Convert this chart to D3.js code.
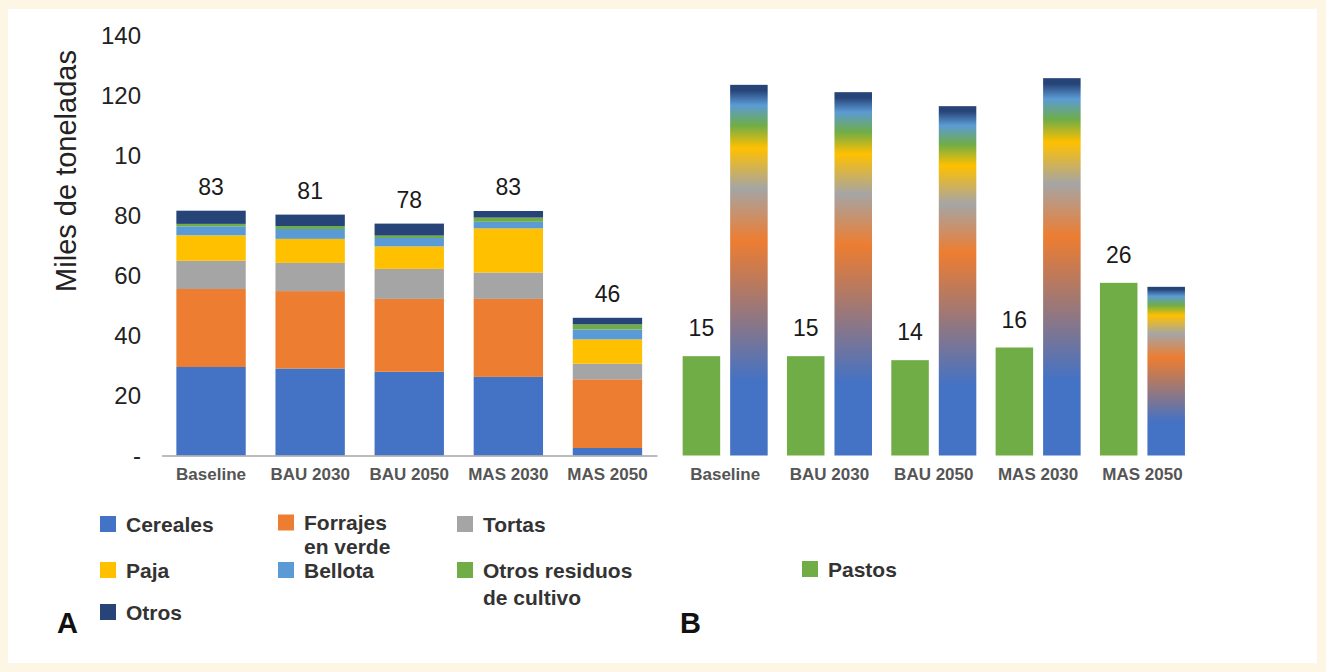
<!DOCTYPE html>
<html>
<head>
<meta charset="utf-8">
<script src="https://cdn.jsdelivr.net/npm/d3@7"></script>
<style>
html,body{margin:0;padding:0;background:#fdf6e5;}
svg{display:block;}
</style>
</head>
<body>
<svg id="c" width="1326" height="672"></svg>
<script>
// ---------- DATA ----------
const scenarios = ["Baseline", "BAU 2030", "BAU 2050", "MAS 2030", "MAS 2050"];

// Chart A: stacked components (miles de toneladas)
const cereales       = [29.5, 29.0, 27.9, 26.2, 2.5];
const forrajesVerde  = [26.0, 25.8, 24.3, 26.0, 22.9];
const tortas         = [9.4, 9.4, 10.0, 8.8, 5.2];
const paja           = [8.5, 8.0, 7.5, 14.7, 8.1];
const bellota        = [3.0, 3.3, 2.8, 2.2, 3.3];
const otrosResiduos  = [0.8, 1.0, 0.8, 1.4, 1.7];
const otros          = [4.4, 3.8, 4.0, 2.2, 2.2];
const totalLabelsA   = [83, 81, 78, 83, 46];

const yTickValuesA = [0, 20, 40, 60, 80, 100, 120, 140];
const yTickLabelsA = ["-", "20", "40", "60", "80", "10", "120", "140"];

// Chart B
const pastos       = [14.9, 14.9, 14.3, 16.2, 25.9];
const pastosLabels = [15, 15, 14, 16, 26];
const totalB       = [55.6, 54.5, 52.4, 56.6, 25.3];

const seriesNamesA = ["Cereales", "Forrajes en verde", "Tortas", "Paja", "Bellota", "Otros residuos de cultivo", "Otros"];
const seriesValuesA = [cereales, forrajesVerde, tortas, paja, bellota, otrosResiduos, otros];

// ---------- STYLE ----------
const colorA = {
  "Cereales": "#4472c4",
  "Forrajes en verde": "#ed7d31",
  "Tortas": "#a5a5a5",
  "Paja": "#ffc000",
  "Bellota": "#5b9bd5",
  "Otros residuos de cultivo": "#70ad47",
  "Otros": "#264478"
};
const colorPastos = "#70ad47";
const gradientStops = [
  [0, "#4472c4"], [0.2, "#4472c4"], [0.58, "#ed7d31"], [0.72, "#a5a5a5"],
  [0.83, "#ffc000"], [0.89, "#70ad47"], [0.945, "#5b9bd5"], [0.985, "#264478"], [1, "#264478"]
];

const svg = d3.select("#c");
svg.append("rect").attr("width", 1326).attr("height", 672).attr("fill", "#fdf6e5");
svg.append("rect").attr("x", 8).attr("y", 9).attr("width", 1309).attr("height", 654).attr("fill", "#ffffff");

const defs = svg.append("defs");
const grad = defs.append("linearGradient").attr("id", "gradB")
  .attr("x1", 0).attr("y1", 1).attr("x2", 0).attr("y2", 0);
gradientStops.forEach(s => grad.append("stop").attr("offset", s[0]).attr("stop-color", s[1]));

const numFont = "'Liberation Sans', Arial, sans-serif";
const legFont = "'Liberation Sans', Arial, sans-serif";

// ---------- CHART A ----------
const yA = d3.scaleLinear().domain([0, 140]).range([455.5, 35.5]);
const xA = d3.scaleBand().domain(scenarios).range([161.5, 657]).paddingInner(0.3).paddingOuter(0.15);

const rowsA = scenarios.map((s, i) => {
  const r = { scenario: s };
  seriesNamesA.forEach((n, k) => r[n] = seriesValuesA[k][i]);
  return r;
});
const stackA = d3.stack().keys(seriesNamesA)(rowsA);

const gA = svg.append("g");
gA.selectAll("g.layer").data(stackA).join("g")
  .attr("class", "layer")
  .attr("fill", d => colorA[d.key])
  .selectAll("rect").data(d => d).join("rect")
  .attr("x", d => xA(d.data.scenario))
  .attr("y", d => yA(d[1]))
  .attr("width", xA.bandwidth())
  .attr("height", d => yA(d[0]) - yA(d[1]));

// y axis A
const axA = svg.append("g").attr("transform", "translate(161.5,0)")
  .call(d3.axisLeft(yA).tickValues(yTickValuesA).tickFormat((d, i) => yTickLabelsA[i]).tickSize(0).tickPadding(20.5));
axA.select(".domain").remove();
axA.selectAll("text").attr("font-family", numFont).attr("font-size", 24).attr("fill", "#222");

// x axis A
const axAx = svg.append("g").attr("transform", "translate(0,455.5)")
  .call(d3.axisBottom(xA).tickSize(0).tickSizeOuter(0).tickPadding(12));
axAx.select(".domain").attr("stroke", "#a6a6a6").attr("stroke-width", 1.5);
axAx.selectAll("text").attr("font-family", numFont).attr("font-size", 17).attr("font-weight", "bold").attr("fill", "#555");

// total labels A
const totalsA = rowsA.map(r => d3.sum(seriesNamesA, n => r[n]));
svg.append("g").selectAll("text").data(scenarios).join("text")
  .attr("x", d => xA(d) + xA.bandwidth() / 2)
  .attr("y", (d, i) => yA(totalsA[i]) - 16)
  .attr("text-anchor", "middle")
  .attr("font-family", numFont).attr("font-size", 23).attr("fill", "#1a1a1a")
  .text((d, i) => totalLabelsA[i]);

// y title
svg.append("text")
  .attr("transform", "translate(76,171) rotate(-90)")
  .attr("text-anchor", "middle")
  .attr("font-family", numFont).attr("font-size", 29).attr("fill", "#222")
  .text("Miles de toneladas");

// ---------- CHART B ----------
const yB = d3.scaleLinear().domain([0, 63]).range([455.5, 35.5]);
const xB = d3.scaleBand().domain(scenarios).range([673, 1194.6]).paddingInner(0.185).paddingOuter(0.0925);
const xSub = d3.scaleBand().domain(["pastos", "total"]).range([0, xB.bandwidth()]).paddingInner(0.21).paddingOuter(0);

const gB = svg.append("g");
gB.selectAll("rect.pastos").data(scenarios).join("rect")
  .attr("class", "pastos")
  .attr("x", d => xB(d) + xSub("pastos"))
  .attr("y", (d, i) => yB(pastos[i]))
  .attr("width", xSub.bandwidth())
  .attr("height", (d, i) => yB(0) - yB(pastos[i]))
  .attr("fill", colorPastos);

gB.selectAll("rect.total").data(scenarios).join("rect")
  .attr("class", "total")
  .attr("x", d => xB(d) + xSub("total"))
  .attr("y", (d, i) => yB(totalB[i]))
  .attr("width", xSub.bandwidth())
  .attr("height", (d, i) => yB(0) - yB(totalB[i]))
  .attr("fill", "url(#gradB)");

gB.selectAll("text.lab").data(scenarios).join("text")
  .attr("class", "lab")
  .attr("x", d => xB(d) + xSub("pastos") + xSub.bandwidth() / 2)
  .attr("y", (d, i) => yB(pastos[i]) - 20)
  .attr("text-anchor", "middle")
  .attr("font-family", numFont).attr("font-size", 23).attr("fill", "#1a1a1a")
  .text((d, i) => pastosLabels[i]);

const axBx = svg.append("g").attr("transform", "translate(0,455.5)")
  .call(d3.axisBottom(xB).tickSize(0).tickSizeOuter(0).tickPadding(12));
axBx.select(".domain").remove();
axBx.selectAll("text").attr("font-family", numFont).attr("font-size", 17).attr("font-weight", "bold").attr("fill", "#555");

// ---------- LEGEND ----------
const legendItems = [
  { name: "Cereales", lines: ["Cereales"], color: colorA["Cereales"], x: 100, y: 524 },
  { name: "Forrajes en verde", lines: ["Forrajes", "en verde"], color: colorA["Forrajes en verde"], x: 278, y: 522.5, lh: 24 },
  { name: "Tortas", lines: ["Tortas"], color: colorA["Tortas"], x: 457, y: 524 },
  { name: "Paja", lines: ["Paja"], color: colorA["Paja"], x: 100, y: 570 },
  { name: "Bellota", lines: ["Bellota"], color: colorA["Bellota"], x: 278, y: 570 },
  { name: "Otros residuos de cultivo", lines: ["Otros residuos", "de cultivo"], color: colorA["Otros residuos de cultivo"], x: 457, y: 570, lh: 27 },
  { name: "Pastos", lines: ["Pastos"], color: colorPastos, x: 802, y: 569 },
  { name: "Otros", lines: ["Otros"], color: colorA["Otros"], x: 100, y: 612 }
];
const leg = svg.append("g");
legendItems.forEach(it => {
  leg.append("rect").attr("x", it.x).attr("y", it.y - 8).attr("width", 16).attr("height", 16).attr("fill", it.color);
  it.lines.forEach((ln, k) => {
    leg.append("text").attr("font-family", legFont).attr("font-size", 21).attr("font-weight", "bold").attr("fill", "#333")
      .attr("x", it.x + 26).attr("y", it.y + 7.5 + k * (it.lh || 22)).text(ln);
  });
});

svg.append("text").attr("x", 57).attr("y", 633).attr("font-family", numFont).attr("font-size", 29).attr("font-weight", "bold").attr("fill", "#111").text("A");
svg.append("text").attr("x", 680).attr("y", 633).attr("font-family", numFont).attr("font-size", 29).attr("font-weight", "bold").attr("fill", "#111").text("B");
</script>
</body>
</html>
